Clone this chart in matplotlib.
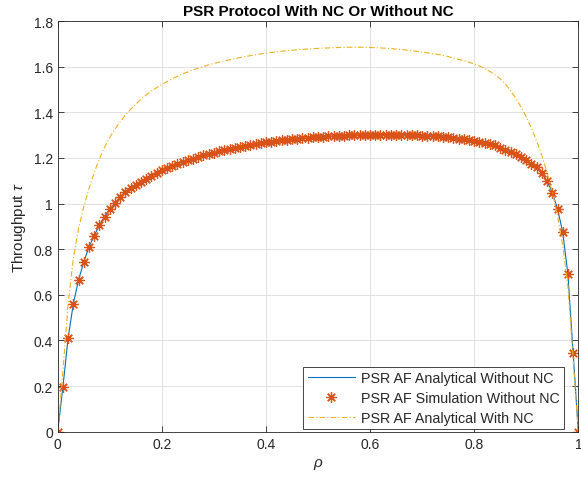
import matplotlib
matplotlib.use('Agg')
import matplotlib.pyplot as plt

# rho grid for the curves without network coding (step 0.01)
rho = [i / 100 for i in range(101)]

# analytical throughput without NC
tau_af = [0, 0.196, 0.41, 0.56, 0.665, 0.743, 0.809, 0.858, 0.905, 0.942,
          0.975, 1.002, 1.03, 1.052, 1.068, 1.083, 1.096, 1.108, 1.12, 1.133,
          1.145, 1.155, 1.164, 1.173, 1.182, 1.19, 1.197, 1.204, 1.211, 1.217,
          1.223, 1.229, 1.235, 1.24, 1.245, 1.249, 1.253, 1.257, 1.261, 1.265,
          1.268, 1.271, 1.274, 1.277, 1.279, 1.281, 1.284, 1.286, 1.288, 1.29,
          1.291, 1.293, 1.294, 1.295, 1.297, 1.298, 1.299, 1.3, 1.3, 1.301,
          1.301, 1.302, 1.302, 1.302, 1.302, 1.302, 1.301, 1.301, 1.3, 1.299,
          1.298, 1.297, 1.296, 1.294, 1.292, 1.29, 1.288, 1.285, 1.282, 1.279,
          1.275, 1.271, 1.266, 1.261, 1.255, 1.245, 1.236, 1.226, 1.215, 1.203,
          1.19, 1.175, 1.158, 1.132, 1.098, 1.048, 0.977, 0.875, 0.69, 0.345,
          0]

# simulation points without NC
tau_af_sim = list(tau_af)

# analytical throughput with NC
rho_nc = [0, 0.005, 0.01, 0.015, 0.02, 0.03, 0.04, 0.05, 0.06, 0.07, 0.08,
          0.09, 0.1, 0.11, 0.12, 0.13, 0.14, 0.15, 0.16, 0.17, 0.18, 0.19,
          0.2, 0.22, 0.24, 0.26, 0.28, 0.3, 0.32, 0.34, 0.36, 0.38, 0.4,
          0.42, 0.44, 0.46, 0.48, 0.5, 0.52, 0.54, 0.56, 0.58, 0.6, 0.62,
          0.64, 0.66, 0.68, 0.7, 0.72, 0.74, 0.76, 0.78, 0.8, 0.81, 0.82,
          0.83, 0.84, 0.85, 0.86, 0.87, 0.88, 0.89, 0.9, 0.91, 0.92, 0.93,
          0.94, 0.95, 0.96, 0.97, 0.98, 0.985, 0.99, 0.995, 1.0]
tau_nc = [0, 0.13, 0.265, 0.41, 0.56, 0.76, 0.89, 0.985, 1.065, 1.135, 1.195,
          1.247, 1.29, 1.326, 1.358, 1.387, 1.413, 1.436, 1.457, 1.476, 1.493,
          1.508, 1.522, 1.547, 1.568, 1.586, 1.601, 1.614, 1.625, 1.635,
          1.644, 1.652, 1.659, 1.665, 1.67, 1.674, 1.677, 1.68, 1.682, 1.684,
          1.685, 1.685, 1.684, 1.682, 1.679, 1.675, 1.67, 1.664, 1.657,
          1.65, 1.638, 1.626, 1.612, 1.603, 1.592, 1.579, 1.564, 1.547,
          1.524, 1.494, 1.461, 1.423, 1.38, 1.33, 1.274, 1.21, 1.136, 1.05,
          0.946, 0.816, 0.636, 0.48, 0.32, 0.16, 0]

xticks = [0, 0.2, 0.4, 0.6, 0.8, 1]
xticklabels = ['0', '0.2', '0.4', '0.6', '0.8', '1']
yticks = [0, 0.2, 0.4, 0.6, 0.8, 1, 1.2, 1.4, 1.6, 1.8]
yticklabels = ['0', '0.2', '0.4', '0.6', '0.8', '1', '1.2', '1.4', '1.6', '1.8']

plt.rcParams['font.family'] = ['Liberation Sans', 'DejaVu Sans']
plt.rcParams['mathtext.fontset'] = 'custom'
plt.rcParams['mathtext.it'] = 'Liberation Sans:italic'
plt.rcParams['mathtext.rm'] = 'Liberation Sans'

dark = '#262626'

fig = plt.figure(figsize=(5.81, 4.89), dpi=100)
ax = fig.add_axes([0.0993, 0.1151, 0.8961, 0.8399])

ax.plot(rho, tau_af, color='#0072BD', lw=0.8, label='PSR AF Analytical Without NC')
ax.plot(rho, tau_af_sim, ls='none', marker=(8, 2, 0), ms=7.5, mew=0.9,
        color='#D95319', label='PSR AF Simulation Without NC')
ax.plot(rho_nc, tau_nc, color='#EDB120', lw=0.8, ls=(0, (5, 2, 1, 2)),
        label='PSR AF Analytical With NC')

ax.set_xlim(0, 1)
ax.set_ylim(0, 1.8)
ax.set_xticks(xticks)
ax.set_xticklabels(xticklabels)
ax.set_yticks(yticks)
ax.set_yticklabels(yticklabels)
ax.tick_params(direction='in', length=4, width=0.6, colors=dark, labelsize=10,
               top=True, right=True)
for s in ax.spines.values():
    s.set_color(dark)
    s.set_linewidth(0.6)
ax.grid(True, color='#dcdcdc', lw=0.6)
ax.set_axisbelow(True)

ax.set_title('PSR Protocol With NC Or Without NC', fontsize=11, fontweight='bold',
             color='black', pad=4)
ax.set_xlabel(r'$\rho$', fontsize=11, color=dark, labelpad=4)
ax.set_ylabel(r'Throughput $\tau$', fontsize=11, color=dark, labelpad=4)

leg = ax.legend(loc='lower right', bbox_to_anchor=(0.973, 0.006), borderaxespad=0,
                fancybox=False, edgecolor=dark, framealpha=1, fontsize=10.3,
                handlelength=3.3, handletextpad=0.45, labelspacing=0.42,
                borderpad=0.3)
leg.get_frame().set_linewidth(0.6)
for t in leg.get_texts():
    t.set_color(dark)

fig.savefig('out.png', dpi=100)
